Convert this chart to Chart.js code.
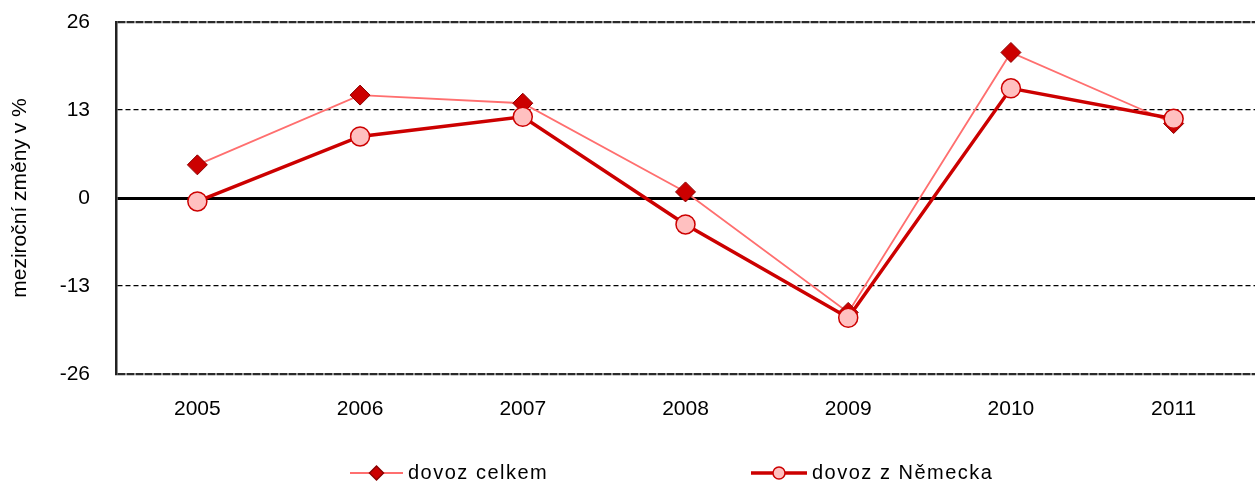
<!DOCTYPE html>
<html lang="cs">
<head>
<meta charset="UTF-8">
<title>Dovoz - meziroční změny</title>
<script src="https://cdn.jsdelivr.net/npm/chart.js@4.4.1/dist/chart.umd.min.js"></script>
<style>
    html, body {
        margin: 0;
        padding: 0;
        background: #fff;
        overflow: hidden;
    }

    .chart-container {
        width: 1266px;
        height: 483px;
    }
</style>
</head>
<body>
<div class="chart-container">
    <canvas id="myChart"></canvas>
</div>

<script>
    const years = ['2005', '2006', '2007', '2008', '2009', '2010', '2011'];
    const dovozCelkem = [4.9, 15.2, 14.0, 0.9, -16.9, 21.5, 11.0];
    const dovozNemecko = [-0.5, 9.1, 12.0, -3.9, -17.7, 16.2, 11.7];
    const yTicks = [-26, -13, 0, 13, 26];
    const seriesNames = ['dovoz celkem', 'dovoz z Německa'];

    const FONT = "'Liberation Sans', Arial, sans-serif";

    // legend under the chart: line piece + marker + text
    const bottomLegend = {
        id: 'bottomLegend',
        afterDraw(chart, args, opts) {
            const ctx = chart.ctx;
            ctx.save();
            opts.items.forEach((it, i) => {
                const ds = chart.data.datasets[i];
                ctx.strokeStyle = ds.borderColor;
                ctx.lineWidth = ds.borderWidth;
                ctx.beginPath();
                ctx.moveTo(it.x, opts.y);
                ctx.lineTo(it.x + it.w, opts.y);
                ctx.stroke();

                ctx.fillStyle = ds.pointBackgroundColor;
                ctx.strokeStyle = ds.pointBorderColor;
                ctx.lineWidth = 1.5;
                Chart.helpers.drawPoint(ctx, {
                    pointStyle: ds.pointStyle,
                    rotation: 0,
                    radius: it.r,
                    borderWidth: 1.5
                }, it.x + it.w / 2, opts.y);

                ctx.fillStyle = '#000';
                ctx.font = '20px ' + FONT;
                ctx.letterSpacing = '1.5px';
                ctx.textBaseline = 'middle';
                ctx.textAlign = 'left';
                ctx.fillText(ds.label, it.x + it.w + 5, opts.y);
            });
            ctx.restore();
        }
    };

    const data = {
        labels: years,
        datasets: [{
                label: seriesNames[0],
                data: dovozCelkem,
                borderColor: '#ff6f6f',
                borderWidth: 1.8,
                pointStyle: 'rectRot',
                pointRadius: 10,
                pointHoverRadius: 10,
                pointBackgroundColor: '#cc0000',
                pointBorderColor: '#8b0000',
                pointBorderWidth: 1,
                order: 2
            },
            {
                label: seriesNames[1],
                data: dovozNemecko,
                borderColor: '#cc0000',
                borderWidth: 3.5,
                pointStyle: 'circle',
                pointRadius: 9.5,
                pointHoverRadius: 9.5,
                pointBackgroundColor: '#ffc0c0',
                pointBorderColor: '#cc0000',
                pointBorderWidth: 1.5,
                order: 1
            }
        ]
    };

    const config = {
        type: 'line',
        data,
        plugins: [bottomLegend],
        options: {
            responsive: true,
            maintainAspectRatio: false,
            animation: false,
            layout: {
                padding: { top: 22, right: 0, bottom: 0, left: 0 }
            },
            scales: {
                x: {
                    offset: true,
                    grid: { display: false, drawTicks: false },
                    border: { display: false },
                    ticks: {
                        color: '#000',
                        padding: 23,
                        maxRotation: 0,
                        font: { size: 21, family: FONT }
                    },
                    afterFit: scale => { scale.height = 109; }
                },
                y: {
                    min: -26,
                    max: 26,
                    afterBuildTicks: scale => {
                        scale.ticks = yTicks.map(v => ({ value: v }));
                    },
                    afterFit: scale => {
                        scale.width = 116;
                        scale.paddingTop = 0;
                        scale.paddingBottom = 0;
                    },
                    grid: {
                        drawTicks: false,
                        color: c => c.tick && Math.abs(c.tick.value) === 26 ? '#2a2a2a' : '#000',
                        lineWidth: c => {
                            if (!c.tick) return 1.2;
                            if (c.tick.value === 0) return 3;
                            return Math.abs(c.tick.value) === 26 ? 2.2 : 1.2;
                        }
                    },
                    border: {
                        display: true,
                        color: '#222',
                        width: 2.5,
                        dash: c => {
                            if (!c.tick || c.tick.value === 0) return [];
                            return Math.abs(c.tick.value) === 26 ? [8, 1] : [5, 3];
                        }
                    },
                    ticks: {
                        color: '#000',
                        padding: 26,
                        font: { size: 21, family: FONT }
                    },
                    title: {
                        display: true,
                        text: 'meziroční změny v %',
                        color: '#000',
                        padding: { top: 8, bottom: 0 },
                        font: { size: 21, family: FONT }
                    }
                }
            },
            plugins: {
                legend: { display: false },
                tooltip: { enabled: false },
                bottomLegend: {
                    y: 473,
                    items: [
                        { x: 350, w: 53, r: 7 },
                        { x: 751, w: 56, r: 6 }
                    ]
                }
            }
        }
    };

    const ctx = document.getElementById('myChart').getContext('2d');
    const myChart = new Chart(ctx, config);
</script>
</body>
</html>
